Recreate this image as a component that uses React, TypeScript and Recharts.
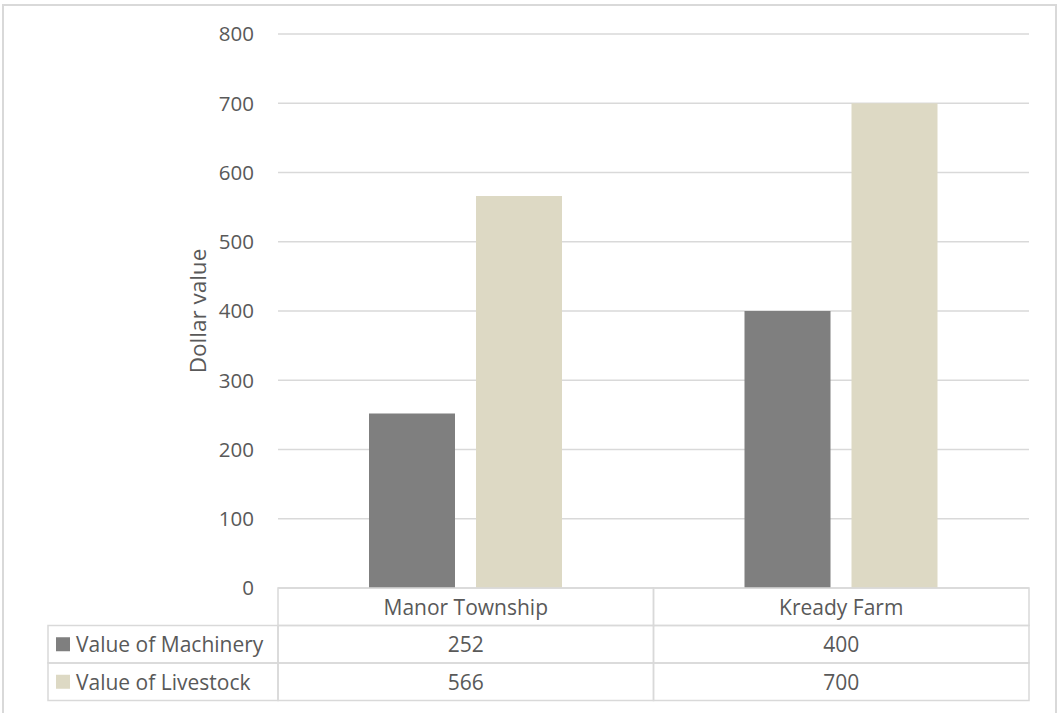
import React from 'react';
import { BarChart, Bar, XAxis, YAxis, CartesianGrid, Customized } from 'recharts';

const categories = ['Manor Township', 'Kready Farm'];
const machineryValues = [252, 400];
const livestockValues = [566, 700];
const seriesNames = ['Value of Machinery', 'Value of Livestock'];
const seriesColors = ['#7f7f7f', '#ddd9c4'];
const yTicks = [0, 100, 200, 300, 400, 500, 600, 700, 800];

const data = categories.map((name, i) => ({
  name,
  machinery: machineryValues[i],
  livestock: livestockValues[i],
}));
const seriesValues = [machineryValues, livestockValues];

const W = 1058;
const H = 713;
const MARGIN = { top: 34, right: 29, left: 0, bottom: 0 };
const Y_AXIS_W = 278;
const X_AXIS_H = 125;
const BAND = (W - Y_AXIS_W - MARGIN.right) / categories.length;
const ROW_H = 37.5;
const TABLE_LEFT = 48;
const FONT = '"Open Sans", sans-serif';
const TEXT = '#595959';
const LINE = '#d9d9d9';
const FS = 21;

const TableTick = (props: any) => {
  const { x, y, payload } = props;
  const idx = payload.index;
  const left = x - BAND / 2;
  const lw = 1.5;
  return (
    <g>
      <rect x={left} y={y} width={BAND} height={ROW_H} fill="none" stroke={LINE} strokeWidth={lw} />
      <text x={x} y={y + ROW_H / 2} textAnchor="middle" dominantBaseline="central" fontFamily={FONT} fontSize={FS} fill={TEXT}>
        {payload.value}
      </text>
      {seriesValues.map((vals, r) => (
        <g key={r}>
          <rect x={left} y={y + ROW_H * (r + 1)} width={BAND} height={ROW_H} fill="none" stroke={LINE} strokeWidth={lw} />
          <text x={x} y={y + ROW_H * (r + 1.5)} textAnchor="middle" dominantBaseline="central" fontFamily={FONT} fontSize={FS} fill={TEXT}>
            {vals[idx]}
          </text>
        </g>
      ))}
      {idx === 0 &&
        seriesNames.map((s, r) => (
          <g key={'l' + r}>
            <rect x={TABLE_LEFT} y={y + ROW_H * (r + 1)} width={left - TABLE_LEFT} height={ROW_H} fill="none" stroke={LINE} strokeWidth={lw} />
            <rect x={TABLE_LEFT + 8} y={y + ROW_H * (r + 1.5) - 7} width={14} height={14} fill={seriesColors[r]} />
            <text x={TABLE_LEFT + 28} y={y + ROW_H * (r + 1.5)} textAnchor="start" dominantBaseline="central" fontFamily={FONT} fontSize={FS} fill={TEXT}>
              {s}
            </text>
          </g>
        ))}
    </g>
  );
};

const AxisTitle = () => (
  <text
    x={197}
    y={311}
    transform="rotate(-90 197 311)"
    textAnchor="middle"
    dominantBaseline="central"
    fontFamily={FONT}
    fontSize={22.5}
    fill={TEXT}
  >
    Dollar value
  </text>
);

export default function App() {
  return (
    <div style={{ position: 'absolute', left: 0, top: 0, width: W, height: H, overflow: 'hidden', background: '#fff' }}>
      <div
        style={{
          position: 'absolute',
          left: 2,
          top: 4,
          width: 1055,
          height: 760,
          border: `2px solid ${LINE}`,
          boxSizing: 'border-box',
        }}
      />
      <div style={{ position: 'absolute', left: 0, top: 0 }}>
        <BarChart width={W} height={H} data={data} margin={MARGIN} barCategoryGap={91} barGap={21}>
          <CartesianGrid horizontal vertical={false} stroke={LINE} strokeWidth={1.5} />
          <XAxis
            dataKey="name"
            height={X_AXIS_H}
            axisLine={false}
            tickLine={false}
            tickSize={0}
            tickMargin={0}
            interval={0}
            tick={<TableTick />}
          />
          <YAxis
            width={Y_AXIS_W}
            domain={[0, 800]}
            ticks={yTicks}
            axisLine={false}
            tickLine={false}
            tickSize={0}
            tickMargin={24}
            tick={{ fontFamily: FONT, fontSize: 20.5, fill: TEXT }}
          />
          <Bar dataKey="machinery" name={seriesNames[0]} fill={seriesColors[0]} isAnimationActive={false} />
          <Bar dataKey="livestock" name={seriesNames[1]} fill={seriesColors[1]} isAnimationActive={false} />
          <Customized component={AxisTitle} />
        </BarChart>
      </div>
    </div>
  );
}
